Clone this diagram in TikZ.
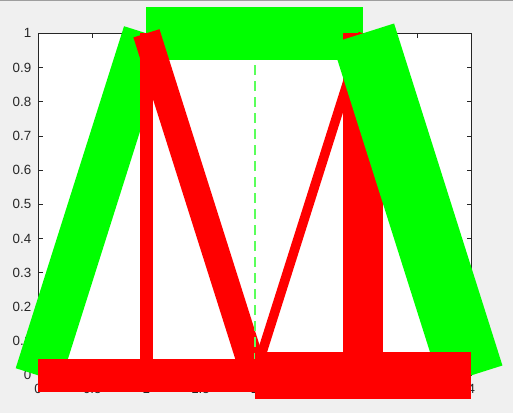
\documentclass[tikz,border=0pt]{standalone}
\usepackage{fontspec}
\setmainfont{Liberation Sans}
\usepackage{xcolor}
\definecolor{figbg}{HTML}{F0F0F0}
\definecolor{axgray}{HTML}{262626}
\definecolor{edgegreen}{RGB}{0,255,0}
\definecolor{edgered}{RGB}{255,0,0}
\definecolor{guidegreen}{RGB}{90,255,90}

\begin{document}
\begin{tikzpicture}[x=81.25pt,y=256.5pt]
\tikzstyle{every node}=[inner sep=0pt,text=axgray,font=\fontsize{10}{12}\selectfont]
\tikzstyle{green edge}=[draw=edgegreen]
\tikzstyle{red edge}=[draw=edgered]
\tikzstyle{axis line}=[draw=axgray,line width=0.6pt]
\useasboundingbox[fill=figbg] (-0.3517,-0.1102) rectangle (4.3837,1.0974);
\draw[black!38,line width=1pt] ([yshift=-0.5pt]-0.3517,1.0974) -- ([yshift=-0.5pt]4.3837,1.0974);
\coordinate (v0) at (0,0);
\coordinate (v1) at (1,1);
\coordinate (t2) at (2,0.907);
\coordinate (v2) at (3,1);
\coordinate (v3) at (4,0);
\coordinate (b1) at (1,0);
\coordinate (b2) at (2,0);
\coordinate (b3) at (3,0);
\coordinate (corner) at (4,1);
\fill[white] (v0) rectangle (corner);
\foreach \t in {0.5,1,1.5,2,2.5,3,3.5}
  \draw[axis line] (\t,0) -- ++(0pt,3.4pt) (\t,1) -- ++(0pt,-3.4pt);
\foreach \t in {0.1,0.2,0.3,0.4,0.5,0.6,0.7,0.8,0.9}
  \draw[axis line] (0,\t) -- ++(3.4pt,0pt) (4,\t) -- ++(-3.4pt,0pt);
\draw[axis line] (v0) rectangle (corner);
\foreach \t [count=\i from 0] in {0,0.1,0.2,0.3,0.4,0.5,0.6,0.7,0.8,0.9,1}
  \node[anchor=east] (yl\i) at ([xshift=-5pt]0,\t) {\t};
\foreach \t [count=\i from 0] in {0,0.5,1,1.5,2,2.5,3,3.5,4}
  \node[anchor=base] (xl\i) at ([yshift=-14pt]\t,0) {\t};
\draw[green edge,line width=35.25pt] (v0) -- (v1);
\draw[green edge,line width=39.45pt] (v1) -- (v2);
\draw[red edge,line width=9.5pt] (b1) -- (v1);
\draw[red edge,line width=20.5pt] (v1) -- (b2);
\draw[red edge,line width=7.1pt] (b2) -- (v2);
\draw[red edge,line width=30pt] (b3) -- (v2);
\draw[green edge,line width=48.75pt] (v2) -- (v3);
\draw[guidegreen,line width=1.5pt,dash pattern=on 7.5pt off 4.5pt] (t2) -- (b2);
\draw[red edge,line width=24.75pt] (v0) -- (b2);
\draw[red edge,line width=35pt] (b2) -- (v3);
\end{tikzpicture}
\end{document}
